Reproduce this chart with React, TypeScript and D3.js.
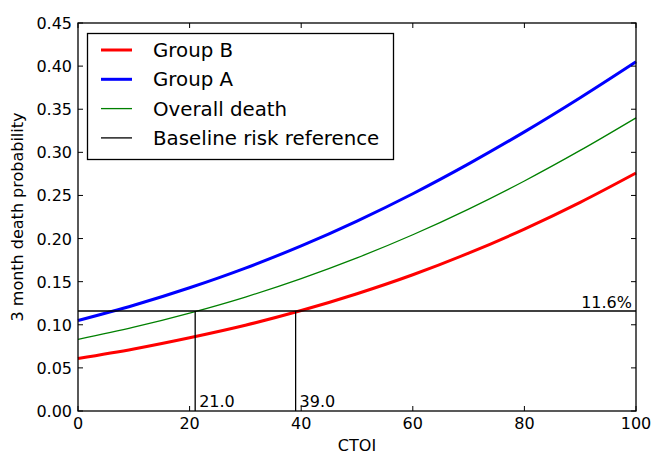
import React from "react";
import * as d3 from "d3";

const xs = [0, 10, 20, 30, 40, 50, 60, 70, 80, 90, 100];
const groupB = [0.061, 0.072, 0.085, 0.0995, 0.1165, 0.136, 0.158, 0.183, 0.211, 0.242, 0.276];
const groupA = [0.105, 0.1227, 0.143, 0.1658, 0.1915, 0.2203, 0.252, 0.2866, 0.3237, 0.3633, 0.405];
const overall = [0.083, 0.0972, 0.1136, 0.1322, 0.1536, 0.1776, 0.2044, 0.2342, 0.2668, 0.3022, 0.34];
const baseline = 0.116;
const crossings = [21.0, 39.0];
const xTicks = [0, 20, 40, 60, 80, 100];
const yTicks = [0, 0.05, 0.1, 0.15, 0.2, 0.25, 0.3, 0.35, 0.4, 0.45];
const legendItems = [
  { label: "Group B", color: "#ff0000", width: 3 },
  { label: "Group A", color: "#0000ff", width: 3 },
  { label: "Overall death", color: "#008000", width: 1.3 },
  { label: "Baseline risk reference", color: "#000000", width: 1.3 },
];

export default function App() {
  const W = 652, H = 455;
  const L = 78, R = 636, T = 23, B = 411;
  const x = d3.scaleLinear().domain([0, 100]).range([L, R]);
  const y = d3.scaleLinear().domain([0, 0.45]).range([B, T]);
  const line = d3
    .line<number>()
    .x((_, i) => x(xs[i]))
    .y((d) => y(d))
    .curve(d3.curveMonotoneX);
  const font = "DejaVu Sans, sans-serif";
  return (
    <svg width={W} height={H} style={{ position: "absolute", left: 0, top: 0 }} fontFamily={font}>
      <rect x={0} y={0} width={W} height={H} fill="#fff" />
      <path d={line(groupB) || ""} fill="none" stroke="#ff0000" strokeWidth={3} />
      <path d={line(groupA) || ""} fill="none" stroke="#0000ff" strokeWidth={3} />
      <path d={line(overall) || ""} fill="none" stroke="#008000" strokeWidth={1.3} />
      <line x1={L} x2={R} y1={y(baseline)} y2={y(baseline)} stroke="#000" strokeWidth={1.3} />
      {crossings.map((c) => (
        <g key={c}>
          <line x1={x(c)} x2={x(c)} y1={B} y2={y(baseline)} stroke="#000" strokeWidth={1.3} />
          <text x={x(c) + 4} y={B - 4} fontSize={16} fill="#000">
            {c.toFixed(1)}
          </text>
        </g>
      ))}
      <text x={R - 4} y={y(baseline) - 3} fontSize={16} textAnchor="end" fill="#000">
        {(baseline * 100).toFixed(1) + "%"}
      </text>
      {/* frame */}
      <rect x={L} y={T} width={R - L} height={B - T} fill="none" stroke="#000" strokeWidth={1.3} />
      {xTicks.map((t) => (
        <g key={"x" + t}>
          <line x1={x(t)} x2={x(t)} y1={B} y2={B - 5} stroke="#000" strokeWidth={1} />
          <line x1={x(t)} x2={x(t)} y1={T} y2={T + 5} stroke="#000" strokeWidth={1} />
          <text x={x(t)} y={429} fontSize={16} textAnchor="middle" fill="#000">
            {t}
          </text>
        </g>
      ))}
      {yTicks.map((t) => (
        <g key={"y" + t}>
          <line x1={L} x2={L + 5} y1={y(t)} y2={y(t)} stroke="#000" strokeWidth={1} />
          <line x1={R} x2={R - 5} y1={y(t)} y2={y(t)} stroke="#000" strokeWidth={1} />
          <text x={L - 6} y={y(t) + 6} fontSize={16} textAnchor="end" fill="#000">
            {t.toFixed(2)}
          </text>
        </g>
      ))}
      <text x={(L + R) / 2} y={451} fontSize={16} textAnchor="middle" fill="#000">
        CTOI
      </text>
      <text
        transform={`translate(23, ${(T + B) / 2}) rotate(-90)`}
        fontSize={16}
        textAnchor="middle"
        fill="#000"
      >
        3 month death probability
      </text>
      {/* legend */}
      <rect x={87.5} y={33.5} width={306} height={126} fill="#fff" stroke="#000" strokeWidth={1.3} />
      {legendItems.map((it, i) => {
        const cy = 50 + i * 29.3;
        return (
          <g key={it.label}>
            <line x1={101} x2={132} y1={cy} y2={cy} stroke={it.color} strokeWidth={it.width} />
            <text x={153} y={cy + 7} fontSize={19.8} fill="#000">
              {it.label}
            </text>
          </g>
        );
      })}
    </svg>
  );
}
